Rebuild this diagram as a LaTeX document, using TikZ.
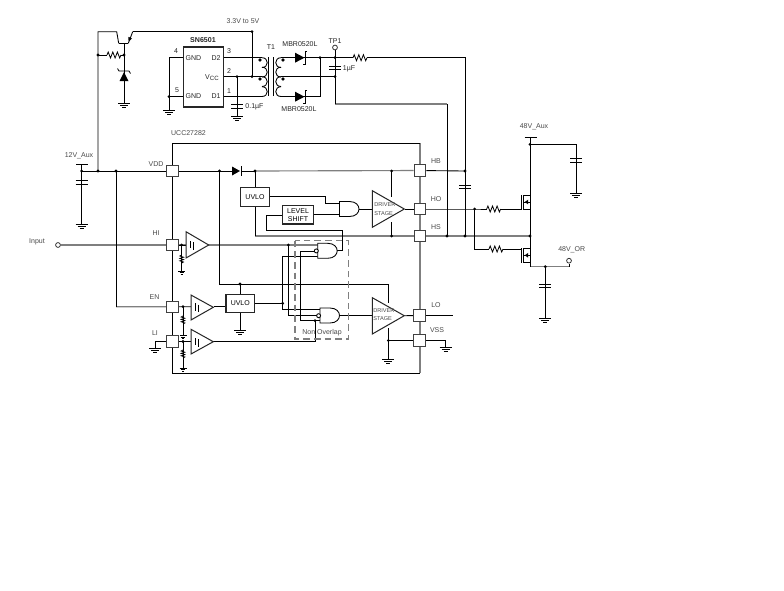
\documentclass[tikz,border=0pt]{standalone}
\usepackage{fontspec}
\setmainfont{Liberation Sans}
\newcommand{\tsz}{\fontsize{5.25pt}{6.2pt}\selectfont}
\newcommand{\jd}[1]{\fill[black] (#1) circle (1.15pt);}
\definecolor{gwire}{HTML}{7F7F7F}
\definecolor{lbl}{HTML}{4A4A4A}
\tikzset{
  wire/.style={draw=black,line width=0.65pt},
  gw/.style={draw=gwire,line width=0.85pt},
  bx/.style={draw=black!85,line width=0.75pt,fill=white},
  pad/.style={draw=black!75,line width=0.75pt,fill=white,minimum width=8.7pt,minimum height=8.7pt,inner sep=0pt},
  blk/.style={draw=black!85,line width=0.8pt,fill=white,inner sep=0pt,align=center,font=\tsz},
  lab/.style={text=lbl,inner sep=0pt,font=\tsz},
  dk/.style={text=black!85,inner sep=0pt,font=\tsz},
  tp/.style={draw=black!80,line width=0.6pt,fill=white,circle,minimum size=3.6pt,inner sep=0pt},
  gate/.style={draw=black,line width=0.65pt,fill=white},
  gndsym/.pic={\draw[line width=0.65pt] (-6,0)--(6,0) (-4,2)--(4,2) (-2,4)--(2,4);},
  gndsmall/.pic={\draw[line width=0.65pt] (-3.5,0)--(3.5,0) (-2.2,1.6)--(2.2,1.6) (-1,3)--(1,3);},
  hres/.pic={\draw[line width=0.6pt] (0,0)--(1.2,-3)--(3.5,3)--(5.8,-3)--(8.1,3)--(10.4,-3)--(12.7,3)--(14,0);},
  vres/.pic={\draw[line width=0.6pt] (0,0)--(-1.8,1)--(1.8,2.2)--(-1.8,3.4)--(1.8,4.6)--(-1.8,5.8)--(1.8,7)--(0,8);},
  hcap/.pic={\draw[line width=0.7pt] (-6,-1.8)--(6,-1.8) (-6,1.8)--(6,1.8);},
  schmitt/.pic={\draw[line width=0.75pt] (-1.2,-4)--(-1.2,3) (1.2,-3)--(1.2,4) (-1.2,-4)--(-2.4,-4) (1.2,4)--(2.4,4);},
  sdiode/.pic={\fill[black] (0,-5)--(0,5)--(9.5,0)--cycle;
     \draw[line width=0.6pt] (12,-6.5)--(10,-6.5)--(10,6.5)--(8,6.5);},
  andgate/.pic={\draw[gate] (0,0)--(10,0) .. controls (16.5,0) and (19.5,4) .. (19.5,7.5) .. controls (19.5,11) and (16.5,15) .. (10,15)--(0,15)--cycle;},
  nmos/.pic={\draw[line width=0.65pt] (0,0)--(0,15) (1.8,0)--(1.8,15) (1.8,0)--(8.3,0) (1.8,14)--(8.3,14) (1.8,7)--(8.3,7);
     \fill[black] (3,7)--(6.5,4.6)--(6.5,9.4)--cycle;}
}
\begin{document}
\begin{tikzpicture}[x=0.75pt,y=-0.75pt]
\useasboundingbox (0,0) rectangle (784,590);
\fill[white] (0,0) rectangle (784,590);

% ---------- junctions ----------
\coordinate (railL) at (98,31.7);
\coordinate (colT) at (116.7,31.7);
\coordinate (colB) at (118.7,43.3);
\coordinate (emB) at (128.3,43.3);
\coordinate (emT) at (132.7,31.7);
\coordinate (rail) at (252,31.7);
\coordinate (baseJ) at (124,43.3);
\coordinate (resJ) at (124,55);
\coordinate (resL) at (98,55);
\coordinate (zgnd) at (124,103);
\coordinate (p4) at (169,57.7);
\coordinate (p5) at (169,96.7);
\coordinate (g45) at (169,110);
\coordinate (p3) at (262,57.7);
\coordinate (p2) at (262,76.7);
\coordinate (p1) at (262,96.7);
\coordinate (c01) at (237,76.7);
\coordinate (c01g) at (237,116);
\coordinate (railV) at (252,76.7);
\coordinate (s3) at (281,57.7);
\coordinate (s2) at (281,76.7);
\coordinate (s1) at (281,96.7);
\coordinate (dJ) at (320,57.7);
\coordinate (dJb) at (320,96.7);
\coordinate (tpT) at (335,57.7);
\coordinate (tpC) at (335,76.7);
\coordinate (tpB) at (335,104);
\coordinate (hsV) at (447,104);
\coordinate (hbV) at (465,57.7);
\coordinate (hbJ) at (465,171);
\coordinate (hsJ1) at (447,236);
\coordinate (hsJ2) at (465,236);
\coordinate (v12) at (81.7,171);
\coordinate (v12T) at (81.7,164);
\coordinate (v12g) at (81.7,224);
\coordinate (vrail) at (98,171);
\coordinate (enV) at (116,171);
\coordinate (enL) at (116,306.7);
\coordinate (hiJ) at (181.7,245);
\coordinate (hiG) at (181.7,271);
\coordinate (dA) at (219.5,171);
\coordinate (dB) at (255,171);
\coordinate (hbIn) at (391.7,171);
\coordinate (hsIn) at (391.7,236);
\coordinate (loV) at (219.5,284);
\coordinate (uvT) at (240,284);
\coordinate (uvG) at (240,330);
\coordinate (drvV) at (388.3,284);
\coordinate (vssJ) at (388.3,340.5);
\coordinate (vssG) at (388.3,359.5);
\coordinate (enJ) at (183,306.7);
\coordinate (enG) at (183,335.5);
\coordinate (liJ) at (183,341.5);
\coordinate (liG) at (183,368);
\coordinate (liP) at (155,341.5);
\coordinate (liPg) at (155,348);
\coordinate (aJ) at (288.3,245);
\coordinate (bJ) at (282.7,303.3);
\coordinate (cJ) at (315,320.7);
\coordinate (boxBL) at (172.7,373.3);
\coordinate (boxBR) at (420,373.3);
\coordinate (boxTL) at (172.7,143);
\coordinate (boxTR) at (420,143);
\coordinate (hoJ) at (474.7,209);
\coordinate (mosTop) at (530,144.3);
\coordinate (rail48) at (530,137.7);
\coordinate (capTop) at (576,144.3);
\coordinate (capG) at (576,193);
\coordinate (mosMid) at (530,236);
\coordinate (mosBot) at (530,262.5);
\coordinate (outS) at (530,266.7);
\coordinate (outJ) at (545.3,266.7);
\coordinate (outG) at (545.3,318);
\coordinate (outE) at (569,266.7);

% ---------- blocks that wires refer to ----------
\node[tp] (tp1) at (335,47.5) {};
\node[tp] (inp) at (58,245) {};
\node[tp] (out48) at (569,260.7) {};
\path (172.3,171) node[pad,name=vdd] {};
\path (172.7,245) node[pad,name=hi] {};
\path (172.7,306.8) node[pad,name=en] {};
\path (172.7,341.5) node[pad,name=li] {};
\path (420,170.5) node[pad,name=hb] {};
\path (420,209) node[pad,name=ho] {};
\path (420,236) node[pad,name=hs] {};
\path (419.7,315.5) node[pad,name=lo] {};
\path (419.7,340.5) node[pad,name=vss] {};

% ---------- package outline and gray rails ----------
\draw[gw] (boxTR) -- (boxBR);
\draw[wire] (boxTR) -- (boxTL) -- (boxBL) -- (boxBR);
\draw[gw] (inp) -- (hi);
\draw[gw] (enL) -- (en);
\draw[gw] (tpB) -- (hsV);
\draw[gw] (hs) -- (mosMid);
\draw[gw] (dB) -- (hb);
\draw[gw] (dB |- hs) -- (hs);
\draw[gw] (hi.east) -- (208,245) -- (aJ);
\draw[gw] (outS) -- (outJ);

% ---------- top section wires ----------
\draw[wire] (vrail) -- (railL) -- (colT) -- (colB);
\draw[wire] (emT) -- (rail);
\draw[wire] (emT) -- (emB);
\draw[wire] (colB) -- (emB) ;
\draw[wire] (baseJ) -- (zgnd);
\draw[wire] (resL) -- (107,55);
\draw[wire] (121,55) -- (resJ);
\draw[wire] (rail) -- (railV);
\draw[wire] (p4) -- (g45);
\draw[wire] (c01) -- (c01g);
\draw[wire] (s3) -- (dJ) -- (dJb) -- (s1);
\draw[wire] (dJ) -- (353,57.7);
\draw[wire] (367,57.7) -- (hbV) -- (hbJ);
\draw[wire] (tp1) -- (tpB);
\draw[wire] (s2) -- (tpC);
\draw[wire] (hsV) -- (hsJ1);
\draw[wire] (hbJ) -- (hsJ2);
\draw[wire] (hb) -- (hbJ);

% ---------- VDD / left wires ----------
\draw[wire] (v12T) -- (v12g);
\draw[wire] (v12) -- (vdd);
\draw[wire] (enV) -- (enL);
\draw[wire] (vdd) -- (232,171);
\draw[wire] (241,171) -- (dB);
\draw[wire] (dA) -- (loV) -- (drvV) -- (388.3,340);
\draw[wire] (uvT) -- (240,294);
\draw[wire] (uvG) -- (240,312);
\draw[wire] (hiJ) -- (hiG);
\draw[wire] (enJ) -- (enG);
\draw[wire] (liJ) -- (liG);
\draw[wire] (li) -- (liP) -- (liPg);
\draw[wire] (vssJ) -- (vssG);
\draw[wire] (vssJ) -- (vss);
\draw[wire] (vss) -- (445.7,340.5) -- (445.7,347);
\draw[wire] (lo) -- (452.7,315.5);
\draw[wire] (en) -- (191,306.7);
\draw[wire] (li) -- (191,341.5);
\draw[wire] (hi) -- (186,245);

% ---------- logic wires ----------
\draw[wire] (dB) -- (255,188);
\draw[wire] (269,196.7) -- (325.7,196.7) -- (325.7,203.5) -- (340,203.5);
\draw[wire] (313,214.3) -- (340,214.3);
\draw[wire] (359,209) -- (373,209);
\draw[wire] (405,209) -- (ho);
\draw[wire] (283,215.7) -- (266.7,215.7) -- (266.7,230) -- (342.5,230) -- (342.5,250.7) -- (337,250.7);
\draw[wire] (255,206) -- (255,236);
\draw[wire] (hbIn) -- (hsIn);
\draw[gw] (aJ) -- (317.7,245);
\draw[wire] (aJ) -- (288.3,315.7) -- (318.5,315.7);
\draw[wire] (bJ) -- (282.7,256.7) -- (317.7,256.7);
\draw[wire] (bJ) -- (282.7,309.4) -- (320,309.4);
\draw[wire] (bJ) -- (254.5,303.3);
\draw[wire] (214,306.7) -- (226,306.7);
\draw[wire] (315,251) -- (300.7,251) -- (300.7,320.7) -- (320,320.7);
\draw[wire] (213,341.7) -- (315,341.7) -- (cJ);
\draw[wire] (340,315.7) -- (373,315.7);
\draw[wire] (405,315.7) -- (lo);
\draw[gw,dash pattern=on 5pt off 3pt] (295,240.7) rectangle (348.3,339);

% ---------- right side wires ----------
\draw[wire] (ho) -- (hoJ) -- (486.7,209);
\draw[wire] (500.7,209) -- (521.7,209);
\draw[wire] (hoJ) -- (474.7,249) -- (489,249);
\draw[wire] (503,249) -- (521.7,249);
\draw[wire] (rail48) -- (mosBot);
\draw[wire] (mosBot) -- (outS);
\draw[wire] (mosTop) -- (capTop) -- (capG);
\draw[wire] (outJ) -- (outG);
\draw[gw] (outJ) -- (outE);
\draw[wire] (outE) -- (out48);

% ---------- blocks ----------
\node[blk,minimum width=30.6pt,minimum height=45pt] (sn) at (203.5,77) {};
\draw[wire] (p4) -- (sn.west |- p4);
\draw[wire] (p5) -- (sn.west |- p5);
\draw[wire] (sn.east |- p3) -- (p3);
\draw[wire] (sn.east |- p2) -- (p2);
\draw[wire] (sn.east |- p1) -- (p1);
\node[blk,minimum width=21.5pt,minimum height=13.8pt] (uv1) at (255,196.9) {UVLO};
\node[blk,minimum width=21.5pt,minimum height=13.8pt] (uv2) at (240.3,303.5) {UVLO};
\node[blk,minimum width=23pt,minimum height=13.8pt,font=\fontsize{5.25pt}{6.2pt}\selectfont] (ls) at (298,214.8) {LEVEL\\SHIFT};
\fill[white] (373,197) rectangle (398,222);
\draw[bx] (372.3,190.7) -- (404.3,209) -- (372.3,227.3) -- cycle;
\fill[white] (373,303) rectangle (398,328);
\draw[bx] (372.3,297.7) -- (404.3,315.7) -- (372.3,334) -- cycle;
\draw[bx] (186,231.7) -- (208.7,245) -- (186,258) -- cycle;
\draw[bx] (191,295) -- (213.3,307.3) -- (191,320) -- cycle;
\draw[bx] (191,329.3) -- (213.3,341.7) -- (191,354) -- cycle;
\path (339.5,201.5) pic {andgate};
\path (317.7,243.3) pic {andgate};
\path (320,308) pic {andgate};
\draw[gate,fill=white] (316.3,250.9) circle (1.5pt);
\draw[gate,fill=white] (318.6,315.7) circle (1.5pt);
\path (192,245) pic {schmitt};
\path (197,307.5) pic {schmitt};
\path (197,342) pic {schmitt};

% pads redrawn above the wires
\foreach \p/\q in {172.3/171,172.7/245,172.7/306.8,172.7/341.5,420/170.5,420/209,420/236,419.7/315.5,419.7/340.5}
  \node[pad] at (\p,\q) {};

% ---------- parts ----------
\path (107,55) pic {hres};
\path (353,57.7) pic {hres};
\path (486.7,209) pic {hres};
\path (489,249) pic {hres};
\path (181.7,255) pic {vres};
\path (183,316) pic {vres};
\path (183,350) pic {vres};
% transistor emitter arrow
\fill[black] (128.6,41.5) -- (128.3,36.8) -- (132,38.5) -- cycle;
% zener
\fill[black] (124,72) -- (128.5,81) -- (119.5,81) -- cycle;
\draw[line width=0.6pt] (117.5,68.5) -- (119,71) -- (129,71) -- (130.5,73.5);
% caps
\path (237,106.5) pic {hcap};
\path (335,68) pic {hcap};
\path (81.7,182.3) pic {hcap};
\path (465,187) pic {hcap};
\path (576,160.3) pic {hcap};
\path (545.3,285.8) pic {hcap};
\draw[line width=0.7pt] (76,164) -- (88,164);
\draw[line width=0.7pt] (524.5,137.7) -- (536.5,137.7);
% grounds
\foreach \g in {zgnd,g45,c01g,v12g,liPg,uvG,vssG,capG,outG} \path (\g) pic {gndsym};
\foreach \g in {hiG,enG,liG} \path (\g) pic {gndsmall};
\path (445.7,347) pic {gndsym};
% diodes
\path (295,57.7) pic {sdiode};
\path (295,96.7) pic {sdiode};
\fill[black] (232,166.5) -- (232,175.5) -- (240,171) -- cycle;
\draw[line width=0.7pt] (241,166) -- (241,176);
% transformer
\foreach \y in {57.7,67.2,76.7,86.7}
  \draw[wire] (262,\y) .. controls (269,\y) and (269,\y+9.8) .. (262,\y+9.8);
\foreach \y in {57.7,67.2,76.7,86.7}
  \draw[wire] (281,\y) .. controls (274,\y) and (274,\y+9.8) .. (281,\y+9.8);
\draw[line width=0.6pt] (268.5,57) -- (268.5,96) (273,57) -- (273,96);
% mosfets
\path (521.7,195) pic {nmos};
\path (521.7,248.3) pic {nmos};
% junction dots
\foreach \j in {resJ,resL,rail,railV,c01,p5,dJ,tpT,tpC,hbJ,hsJ1,hsJ2,v12,vrail,enV,hiJ,dA,dB,hbIn,hsIn,uvT,vssJ,enJ,liJ,aJ,bJ,cJ,hoJ,mosTop,mosMid,outJ}
  \jd{\j}
\foreach \cx/\cy in {260/60,260/79,283/60,283/79}
  \fill[black] (\cx,\cy) circle (0.9pt);

% ---------- text ----------
\node[lab] at (243,21) {3.3V to 5V};
\node[dk,font=\bfseries\fontsize{5.3pt}{6pt}\selectfont] at (203,40) {SN6501};
\node[dk] at (176,51.5) {4};
\node[dk] at (177,90.5) {5};
\node[dk] at (229,51) {3};
\node[dk] at (229,71) {2};
\node[dk] at (229,91) {1};
\node[dk] at (193.5,58) {GND};
\node[dk] at (193.5,96.5) {GND};
\node[dk] at (216,58) {D2};
\node[dk] at (216,96.5) {D1};
\node[dk] at (212,77.5) {V\raisebox{-0.8pt}{\fontsize{4.6pt}{5pt}\selectfont CC}};
\node[dk] at (271,47.5) {T1};
\node[dk] at (254.5,107) {0.1µF};
\node[dk] at (300,44) {MBR0520L};
\node[dk] at (299,109) {MBR0520L};
\node[dk] at (335,41) {TP1};
\node[dk] at (349,69) {1µF};
\node[lab] at (188.5,133.5) {UCC27282};
\node[lab] at (79,156) {12V\_Aux};
\node[lab] at (37,242) {Input};
\node[lab] at (156,164) {VDD};
\node[lab] at (156,233) {HI};
\node[lab] at (154.5,297) {EN};
\node[lab] at (155,333) {LI};
\node[lab] at (436,161) {HB};
\node[lab] at (436,199) {HO};
\node[lab] at (436,227) {HS};
\node[lab] at (436,305) {LO};
\node[lab] at (437,330) {VSS};
\node[lab] at (534,127) {48V\_Aux};
\node[lab] at (571.7,250) {48V\_OR};
\node[lab] at (322,333) {Non Overlap};
\node[lab,font=\fontsize{4.2pt}{5pt}\selectfont,anchor=west] at (374,205) {DRIVER};
\node[lab,font=\fontsize{4.2pt}{5pt}\selectfont,anchor=west] at (374,213.3) {STAGE};
\node[lab,font=\fontsize{4.2pt}{5pt}\selectfont,anchor=west] at (373,311) {DRIVER};
\node[lab,font=\fontsize{4.2pt}{5pt}\selectfont,anchor=west] at (373,319) {STAGE};
\end{tikzpicture}
\end{document}
